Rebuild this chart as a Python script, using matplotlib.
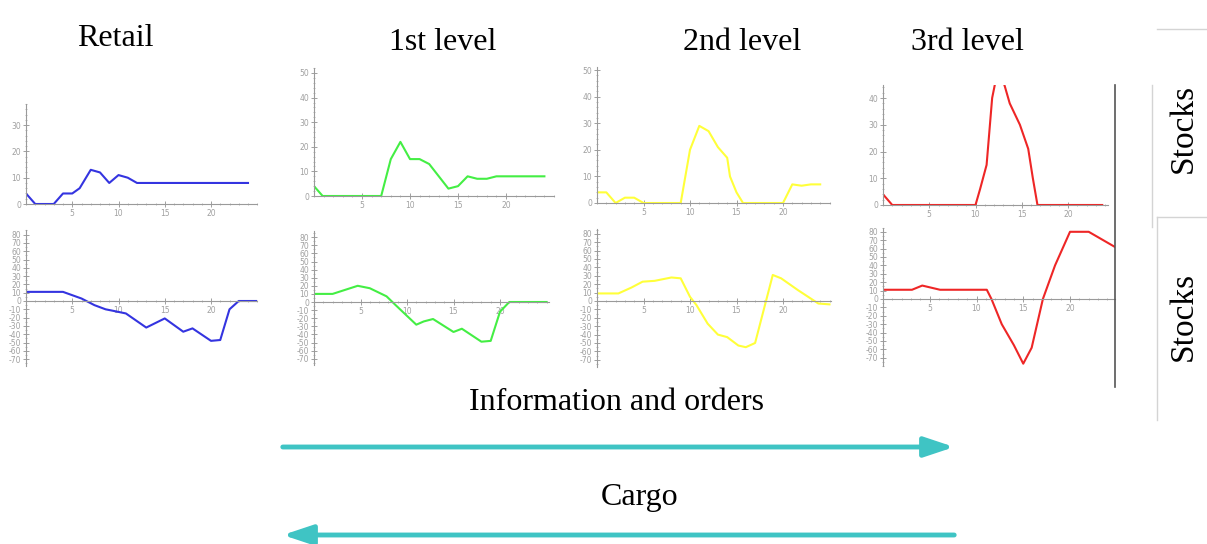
import numpy as np
import matplotlib
matplotlib.use('Agg')
import matplotlib.pyplot as plt
from matplotlib.lines import Line2D
from matplotlib.patches import FancyArrowPatch
from matplotlib.ticker import MultipleLocator

plt.rcParams['axes.unicode_minus'] = False

W, H = 1207, 544

# Stocks (upper row) per supply-chain level
retail_stock_x = [0, 1, 2, 3, 4, 5, 5.8, 7, 8, 9, 10, 11, 12, 24]
retail_stock_y = [4, 0, 0, 0, 4, 4, 6, 13, 12, 8, 11, 10, 8, 8]

lvl1_stock_x = [0, 0.9, 7, 8, 9, 10, 11, 12, 13, 14, 15, 16, 17, 18, 19, 24]
lvl1_stock_y = [4, 0, 0, 15, 22, 15, 15, 13, 8, 3, 4, 8, 7, 7, 8, 8]

lvl2_stock_x = [0, 1, 2, 3, 4, 5, 9, 9.5, 10, 11, 12, 13, 14, 14.3, 15, 15.7, 20, 21, 22, 23, 24]
lvl2_stock_y = [4, 4, 0, 2, 2, 0, 0, 10, 20, 29, 27, 21, 17, 10, 4, 0, 0, 7, 6.5, 7, 7]

lvl3_stock_x = [0, 1, 10, 10.5, 11.2, 11.8, 12.5, 13.2, 13.7, 14.8, 15.7, 16.2, 16.7, 23.7]
lvl3_stock_y = [4, 0, 0, 6, 15, 40, 52, 44, 38, 30, 21, 10, 0, 0]

# Net position (lower row)
retail_net_x = [0, 4, 6, 7.4, 8.6, 9.5, 10.8, 13, 15, 17, 18, 20, 21, 22, 23, 25]
retail_net_y = [11, 11, 3, -5, -10, -12, -15, -32, -21, -37, -33, -48, -47, -10, 0, 0]

lvl1_net_x = [0, 2, 4.7, 6, 7.8, 8.7, 9.8, 11, 11.8, 12.8, 15, 15.9, 18, 19, 20, 21, 25]
lvl1_net_y = [10, 10, 20, 17, 7, -3, -15, -28, -24, -21, -37, -33, -49, -48, -12, 0, 0]

lvl2_net_x = [0, 2.3, 3.7, 4.9, 6.2, 8, 9, 10, 10.7, 11.9, 13, 14, 15.2, 16, 17, 18.9, 19.8, 21.6, 23.8, 25]
lvl2_net_y = [9, 9, 16, 23, 24, 28, 27, 5, -5, -27, -40, -43, -53, -55, -50, 31, 27, 13, -3, -4]

lvl3_net_x = [0, 3.1, 4.2, 6.1, 11.1, 11.6, 12.7, 14, 15, 15.9, 17.1, 18.4, 20, 22, 24.8]
lvl3_net_y = [11, 11, 16, 11, 11, 0, -30, -55, -77, -58, 0, 40, 80, 80, 62]

titles = ['Retail', '1st level', '2nd level', '3rd level']
row_label = 'Stocks'
flow_labels = ['Information and orders', 'Cargo']

colors = ['#3434e0', '#44ee44', '#ffff3a', '#ee2626']

fig = plt.figure(figsize=(W / 100, H / 100), dpi=100)
serif = 'Liberation Serif'


def place(x0, unit, xmax, y0, yunit, ylo, yhi):
    left = x0 / W
    width = xmax * unit / W
    bottom = 1 - (y0 - ylo * yunit) / H
    height = (yhi - ylo) * yunit / H
    ax = fig.add_axes([left, bottom, width, height])
    ax.set_xlim(0, xmax)
    ax.set_ylim(ylo, yhi)
    return ax


def style(ax, yticks):
    for s in ['top', 'right']:
        ax.spines[s].set_visible(False)
    ax.spines['bottom'].set_position(('data', 0))
    for s in ['left', 'bottom']:
        ax.spines[s].set_color('#9a9a9a')
        ax.spines[s].set_linewidth(0.8)
    ax.patch.set_alpha(0)
    ax.set_xticks([5, 10, 15, 20])
    ax.xaxis.set_minor_locator(MultipleLocator(1))
    ax.set_yticks(yticks)
    ax.yaxis.set_minor_locator(MultipleLocator(2))
    ax.tick_params(which='major', direction='inout', length=4, width=0.7,
                   colors='#a0a0a0', labelsize=5.5, pad=1.5)
    ax.tick_params(which='minor', direction='inout', length=2, width=0.5,
                   colors='#a0a0a0')


top_layout = [
    (26, 9.25, 25, 204, 2.63, 0, 38),
    (314, 9.6, 25, 196, 2.46, 0, 52),
    (597, 9.3, 25, 203, 2.66, 0, 51),
    (883, 9.25, 24.3, 205, 2.675, 0, 45),
]
bottom_layout = [
    (26, 9.25, 25, 301, 0.83, -78, 85),
    (314, 9.3, 25.3, 302, 0.81, -78, 88),
    (597, 9.3, 25.2, 301, 0.84, -78, 86),
    (883, 9.35, 24.8, 299, 0.84, -80, 85),
]
top_yticks = [[0, 10, 20, 30], [0, 10, 20, 30, 40, 50], [0, 10, 20, 30, 40, 50], [0, 10, 20, 30, 40]]
bottom_yticks = list(range(-70, 81, 10))

stocks = [(retail_stock_x, retail_stock_y), (lvl1_stock_x, lvl1_stock_y),
          (lvl2_stock_x, lvl2_stock_y), (lvl3_stock_x, lvl3_stock_y)]
nets = [(retail_net_x, retail_net_y), (lvl1_net_x, lvl1_net_y),
        (lvl2_net_x, lvl2_net_y), (lvl3_net_x, lvl3_net_y)]

for i in range(4):
    ax = place(*top_layout[i])
    style(ax, top_yticks[i])
    ax.plot(stocks[i][0], stocks[i][1], color=colors[i], lw=1.5)

    ax = place(*bottom_layout[i])
    style(ax, bottom_yticks)
    ax.yaxis.set_minor_locator(MultipleLocator(5))
    ax.plot(nets[i][0], nets[i][1], color=colors[i], lw=1.5)

# column titles
title_pos = [(115, 39), (443, 43), (742, 42), (967, 42)]
for t, (px, py) in zip(titles, title_pos):
    fig.text(px / W, 1 - py / H, t, ha='center', va='center',
             fontsize=23, family=serif)

# row labels on the right
for py in [128, 316]:
    fig.text(1184 / W, 1 - py / H, row_label, ha='center', va='center',
             rotation=90, fontsize=24, family=serif)

# table borders and right divider
def fline(xs, ys, color, lw):
    fig.add_artist(Line2D([x / W for x in xs], [1 - y / H for y in ys],
                          color=color, lw=lw))

fline([1115, 1115], [85, 387], '#555555', 1.2)
fline([1157, 1207], [29, 29], '#d4d4d4', 1.0)
fline([1152, 1152], [85, 227], '#d4d4d4', 1.0)
fline([1157, 1207], [217, 217], '#d4d4d4', 1.0)
fline([1157, 1157], [217, 420], '#d4d4d4', 1.0)

# flow arrows
teal = '#3fc4c4'
fig.text(617 / W, 1 - 402 / H, flow_labels[0], ha='center', va='center',
         fontsize=23, family=serif)
fig.text(640 / W, 1 - 497 / H, flow_labels[1], ha='center', va='center',
         fontsize=23, family=serif)
for (xa, xb, y) in [(280, 957, 447), (957, 280, 535)]:
    arr = FancyArrowPatch((xa / W, 1 - y / H), (xb / W, 1 - y / H),
                          transform=fig.transFigure, color=teal,
                          arrowstyle='-|>,head_length=15,head_width=5',
                          lw=3.5, mutation_scale=1.2)
    fig.add_artist(arr)

fig.savefig('out.png', dpi=100)
